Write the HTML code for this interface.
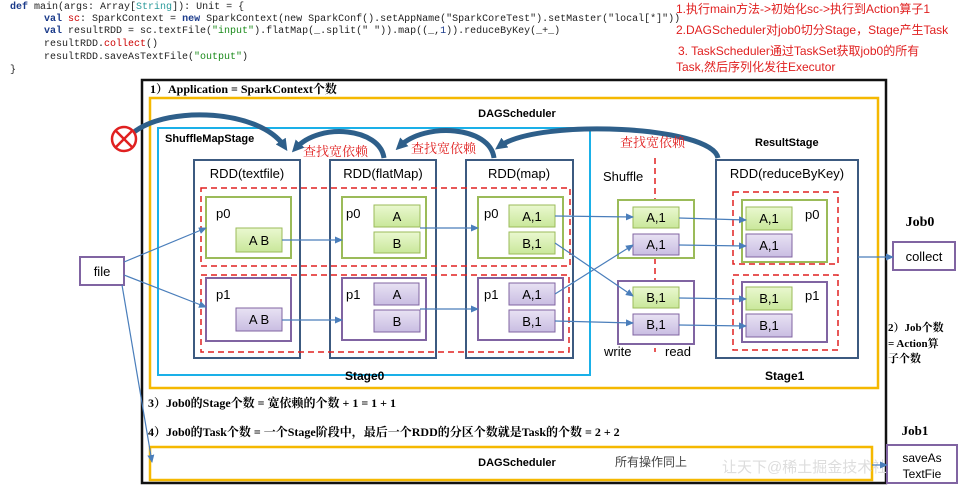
<!DOCTYPE html>
<html><head><meta charset="utf-8"><style>
html,body{margin:0;padding:0;background:#fff;}
svg{display:block;}
.code{font-family:"Liberation Mono",monospace;font-size:10px;fill:#222;}
.s{font-family:"Liberation Sans","Noto Sans CJK SC",sans-serif;}
.r{font-family:"Liberation Serif","Noto Serif CJK SC",serif;font-weight:bold;}
</style></head><body>
<svg width="960" height="493" viewBox="0 0 960 493" xmlns="http://www.w3.org/2000/svg">
<defs>
<marker id="a" markerWidth="8" markerHeight="8" refX="7" refY="4" orient="auto" markerUnits="userSpaceOnUse"><path d="M0,0.5 L8,4 L0,7.5z" fill="#4a7ebb"/></marker>
<marker id="b" markerWidth="12" markerHeight="12" refX="6" refY="6" orient="auto" markerUnits="userSpaceOnUse"><path d="M0,0 L12,6 L0,12z" fill="#2e5f8a"/></marker>
<linearGradient id="g" x1="0" y1="0" x2="0" y2="1"><stop offset="0" stop-color="#eaf8d0"/><stop offset="1" stop-color="#c9e79a"/></linearGradient>
<linearGradient id="p" x1="0" y1="0" x2="0" y2="1"><stop offset="0" stop-color="#e8e2f3"/><stop offset="1" stop-color="#c9bde2"/></linearGradient>
</defs>
<text class="code" x="10" y="9"><tspan fill="#1a3a8a" font-weight="bold">def</tspan> main(args: Array[<tspan fill="#2a9a9a">String</tspan>]): Unit = {</text>
<text class="code" x="44" y="21"><tspan fill="#1a3a8a" font-weight="bold">val</tspan> <tspan fill="#c00">sc</tspan>: SparkContext = <tspan fill="#1a3a8a" font-weight="bold">new</tspan> SparkContext(new SparkConf().setAppName("SparkCoreTest").setMaster("local[*]"))</text>
<text class="code" x="44" y="33"><tspan fill="#1a3a8a" font-weight="bold">val</tspan> resultRDD = sc.textFile(<tspan fill="#1a8a1a">"input"</tspan>).flatMap(_.split(" ")).map((_,<tspan fill="#1a3a8a">1</tspan>)).reduceByKey(_+_)</text>
<text class="code" x="44" y="46">resultRDD.<tspan fill="#c00">collect</tspan>()</text>
<text class="code" x="44" y="59">resultRDD.saveAsTextFile(<tspan fill="#1a8a1a">"output"</tspan>)</text>
<text class="code" x="10" y="72">}</text>
<g class="s" fill="#e02020" font-size="12">
<text x="676" y="13">1.执行main方法-&gt;初始化sc-&gt;执行到Action算子1</text>
<text x="676" y="34">2.DAGScheduler对job0切分Stage，Stage产生Task</text>
<text x="678" y="55">3. TaskScheduler通过TaskSet获取job0的所有</text>
<text x="676" y="71">Task,然后序列化发往Executor</text>
</g>
<rect x="142" y="80" width="744" height="403" fill="none" stroke="#111" stroke-width="2.5"/>
<text class="r" x="150" y="93" font-size="12">1）Application = SparkContext个数</text>
<rect x="150" y="98" width="728" height="290" fill="none" stroke="#f5b800" stroke-width="2.5"/>
<text class="s" x="517" y="117" font-size="11" font-weight="bold" text-anchor="middle">DAGScheduler</text>
<rect x="158" y="128" width="432" height="247" fill="none" stroke="#1ab0e8" stroke-width="2"/>
<text class="s" x="165" y="142" font-size="11" font-weight="bold">ShuffleMapStage</text>
<text class="s" x="755" y="146" font-size="11" font-weight="bold">ResultStage</text>
<text class="s" x="345" y="380" font-size="12" font-weight="bold">Stage0</text>
<text class="s" x="765" y="380" font-size="12" font-weight="bold">Stage1</text>
<rect x="150" y="447" width="722" height="33" fill="none" stroke="#f5b800" stroke-width="2.5"/>
<text class="s" x="517" y="466" font-size="11" font-weight="bold" text-anchor="middle">DAGScheduler</text>
<text class="s" x="615" y="466" font-size="12" fill="#444">所有操作同上</text>
<text class="s" x="722" y="472" font-size="15" fill="#ddd">让天下@稀土掘金技术社区</text>
<text class="r" x="148" y="407" font-size="12">3）Job0的Stage个数 = 宽依赖的个数 + 1 = 1 + 1</text>
<text class="r" x="148" y="436" font-size="12">4）Job0的Task个数 = 一个Stage阶段中，最后一个RDD的分区个数就是Task的个数 = 2 + 2</text>
<g fill="none" stroke="#3c5a80" stroke-width="2">
<rect x="194" y="160" width="106" height="198"/>
<rect x="330" y="160" width="106" height="198"/>
<rect x="466" y="160" width="107" height="198"/>
<rect x="716" y="160" width="142" height="198"/>
</g>
<g class="s" font-size="13" text-anchor="middle">
<text x="247" y="178">RDD(textfile)</text>
<text x="383" y="178">RDD(flatMap)</text>
<text x="519" y="178">RDD(map)</text>
<text x="787" y="178">RDD(reduceByKey)</text>
</g>
<g fill="none" stroke="#e02020" stroke-width="1.5" stroke-dasharray="6,4">
<rect x="201" y="188" width="369" height="78"/>
<rect x="201" y="275" width="368" height="77"/>
<rect x="733" y="192" width="105" height="72"/>
<rect x="733" y="275" width="105" height="75"/>
<line x1="655" y1="158" x2="655" y2="352"/>
</g>
<g fill="#fff" stroke-width="2">
<rect x="206" y="197" width="85" height="61" stroke="#9bbb59"/>
<rect x="206" y="278" width="85" height="63" stroke="#8064a2"/>
<rect x="342" y="197" width="84" height="61" stroke="#9bbb59"/>
<rect x="342" y="278" width="84" height="62" stroke="#8064a2"/>
<rect x="478" y="197" width="85" height="61" stroke="#9bbb59"/>
<rect x="478" y="278" width="85" height="62" stroke="#8064a2"/>
<rect x="618" y="200" width="76" height="58" stroke="#9bbb59"/>
<rect x="618" y="281" width="76" height="63" stroke="#8064a2"/>
<rect x="742" y="200" width="85" height="62" stroke="#9bbb59"/>
<rect x="742" y="282" width="85" height="60" stroke="#8064a2"/>
</g>
<g class="s" font-size="13">
<text x="216" y="218">p0</text><text x="216" y="299">p1</text>
<text x="346" y="218">p0</text><text x="346" y="299">p1</text>
<text x="484" y="218">p0</text><text x="484" y="299">p1</text>
<text x="805" y="219">p0</text><text x="805" y="300">p1</text>
<text x="603" y="181">Shuffle</text>
<text x="604" y="356">write</text><text x="665" y="356">read</text>
</g>
<g stroke-width="1">
<rect x="236" y="228" width="46" height="24" fill="url(#g)" stroke="#9bbb59"/>
<rect x="236" y="308" width="46" height="23" fill="url(#p)" stroke="#8064a2"/>
<rect x="374" y="205" width="46" height="22" fill="url(#g)" stroke="#9bbb59"/>
<rect x="374" y="232" width="46" height="21" fill="url(#g)" stroke="#9bbb59"/>
<rect x="374" y="283" width="45" height="22" fill="url(#p)" stroke="#8064a2"/>
<rect x="374" y="310" width="46" height="22" fill="url(#p)" stroke="#8064a2"/>
<rect x="509" y="205" width="46" height="22" fill="url(#g)" stroke="#9bbb59"/>
<rect x="509" y="232" width="46" height="22" fill="url(#g)" stroke="#9bbb59"/>
<rect x="509" y="283" width="46" height="22" fill="url(#p)" stroke="#8064a2"/>
<rect x="509" y="310" width="46" height="22" fill="url(#p)" stroke="#8064a2"/>
<rect x="633" y="207" width="46" height="21" fill="url(#g)" stroke="#9bbb59"/>
<rect x="633" y="234" width="46" height="21" fill="url(#p)" stroke="#8064a2"/>
<rect x="633" y="287" width="46" height="21" fill="url(#g)" stroke="#9bbb59"/>
<rect x="633" y="314" width="46" height="21" fill="url(#p)" stroke="#8064a2"/>
<rect x="746" y="207" width="46" height="23" fill="url(#g)" stroke="#9bbb59"/>
<rect x="746" y="234" width="46" height="23" fill="url(#p)" stroke="#8064a2"/>
<rect x="746" y="287" width="46" height="23" fill="url(#g)" stroke="#9bbb59"/>
<rect x="746" y="314" width="46" height="23" fill="url(#p)" stroke="#8064a2"/>
</g>
<g class="s" font-size="13" text-anchor="middle">
<text x="259" y="245">A B</text><text x="259" y="324">A B</text>
<text x="397" y="221">A</text><text x="397" y="248">B</text>
<text x="397" y="299">A</text><text x="397" y="326">B</text>
<text x="532" y="221">A,1</text><text x="532" y="248">B,1</text>
<text x="532" y="299">A,1</text><text x="532" y="326">B,1</text>
<text x="656" y="222">A,1</text><text x="656" y="249">A,1</text>
<text x="656" y="302">B,1</text><text x="656" y="329">B,1</text>
<text x="769" y="223">A,1</text><text x="769" y="250">A,1</text>
<text x="769" y="303">B,1</text><text x="769" y="330">B,1</text>
</g>
<rect x="80" y="257" width="44" height="28" fill="#fff" stroke="#8064a2" stroke-width="2"/>
<text class="s" x="102" y="276" font-size="13" text-anchor="middle">file</text>
<text class="r" x="920" y="226" font-size="14" text-anchor="middle">Job0</text>
<rect x="893" y="242" width="62" height="28" fill="#fff" stroke="#8064a2" stroke-width="2"/>
<text class="s" x="924" y="261" font-size="13" text-anchor="middle">collect</text>
<text class="r" x="888" y="331" font-size="11">2）Job个数</text>
<text class="r" x="888" y="347" font-size="11">= Action算</text>
<text class="r" x="888" y="362" font-size="11">子个数</text>
<text class="r" x="915" y="435" font-size="13" text-anchor="middle">Job1</text>
<rect x="887" y="445" width="70" height="38" fill="#fff" stroke="#8064a2" stroke-width="2"/>
<text class="s" x="922" y="462" font-size="12" text-anchor="middle">saveAs</text>
<text class="s" x="922" y="478" font-size="12" text-anchor="middle">TextFie</text>
<g stroke="#4a7ebb" stroke-width="1.2" fill="none" marker-end="url(#a)">
<line x1="124" y1="262" x2="206" y2="228"/>
<line x1="124" y1="275" x2="206" y2="307"/>
<line x1="122" y1="285" x2="152" y2="462"/>
<line x1="282" y1="240" x2="342" y2="240"/>
<line x1="282" y1="320" x2="342" y2="320"/>
<line x1="420" y1="228" x2="478" y2="228"/>
<line x1="420" y1="309" x2="478" y2="309"/>
<line x1="555" y1="216" x2="633" y2="217"/>
<line x1="555" y1="243" x2="633" y2="296"/>
<line x1="555" y1="294" x2="633" y2="245"/>
<line x1="555" y1="321" x2="633" y2="323"/>
<line x1="679" y1="218" x2="746" y2="220"/>
<line x1="679" y1="245" x2="746" y2="246"/>
<line x1="679" y1="298" x2="746" y2="299"/>
<line x1="679" y1="325" x2="746" y2="326"/>
<line x1="858" y1="257" x2="893" y2="257"/>
<line x1="872" y1="465" x2="887" y2="465"/>
</g>
<g stroke="#2e5f8a" stroke-width="5" fill="none">
<path d="M134,132 C170,105 260,110 284,146" marker-end="url(#b)"/>
<path d="M384,158 C380,128 320,122 296,148" marker-end="url(#b)"/>
<path d="M494,158 C490,126 425,122 400,146" marker-end="url(#b)"/>
<path d="M718,158 C712,126 540,118 500,146" marker-end="url(#b)"/>
</g>
<g font-family="'Liberation Serif','Noto Serif CJK SC',serif" font-size="13" fill="#e02020">
<text x="303" y="156">查找宽依赖</text>
<text x="411" y="153">查找宽依赖</text>
<text x="620" y="147">查找宽依赖</text>
</g>
<circle cx="124" cy="139" r="12" fill="#fff" stroke="#e02020" stroke-width="2.5"/>
<line x1="116" y1="131" x2="132" y2="147" stroke="#e02020" stroke-width="2.5"/>
<line x1="132" y1="131" x2="116" y2="147" stroke="#e02020" stroke-width="2.5"/>
</svg>
</body></html>
